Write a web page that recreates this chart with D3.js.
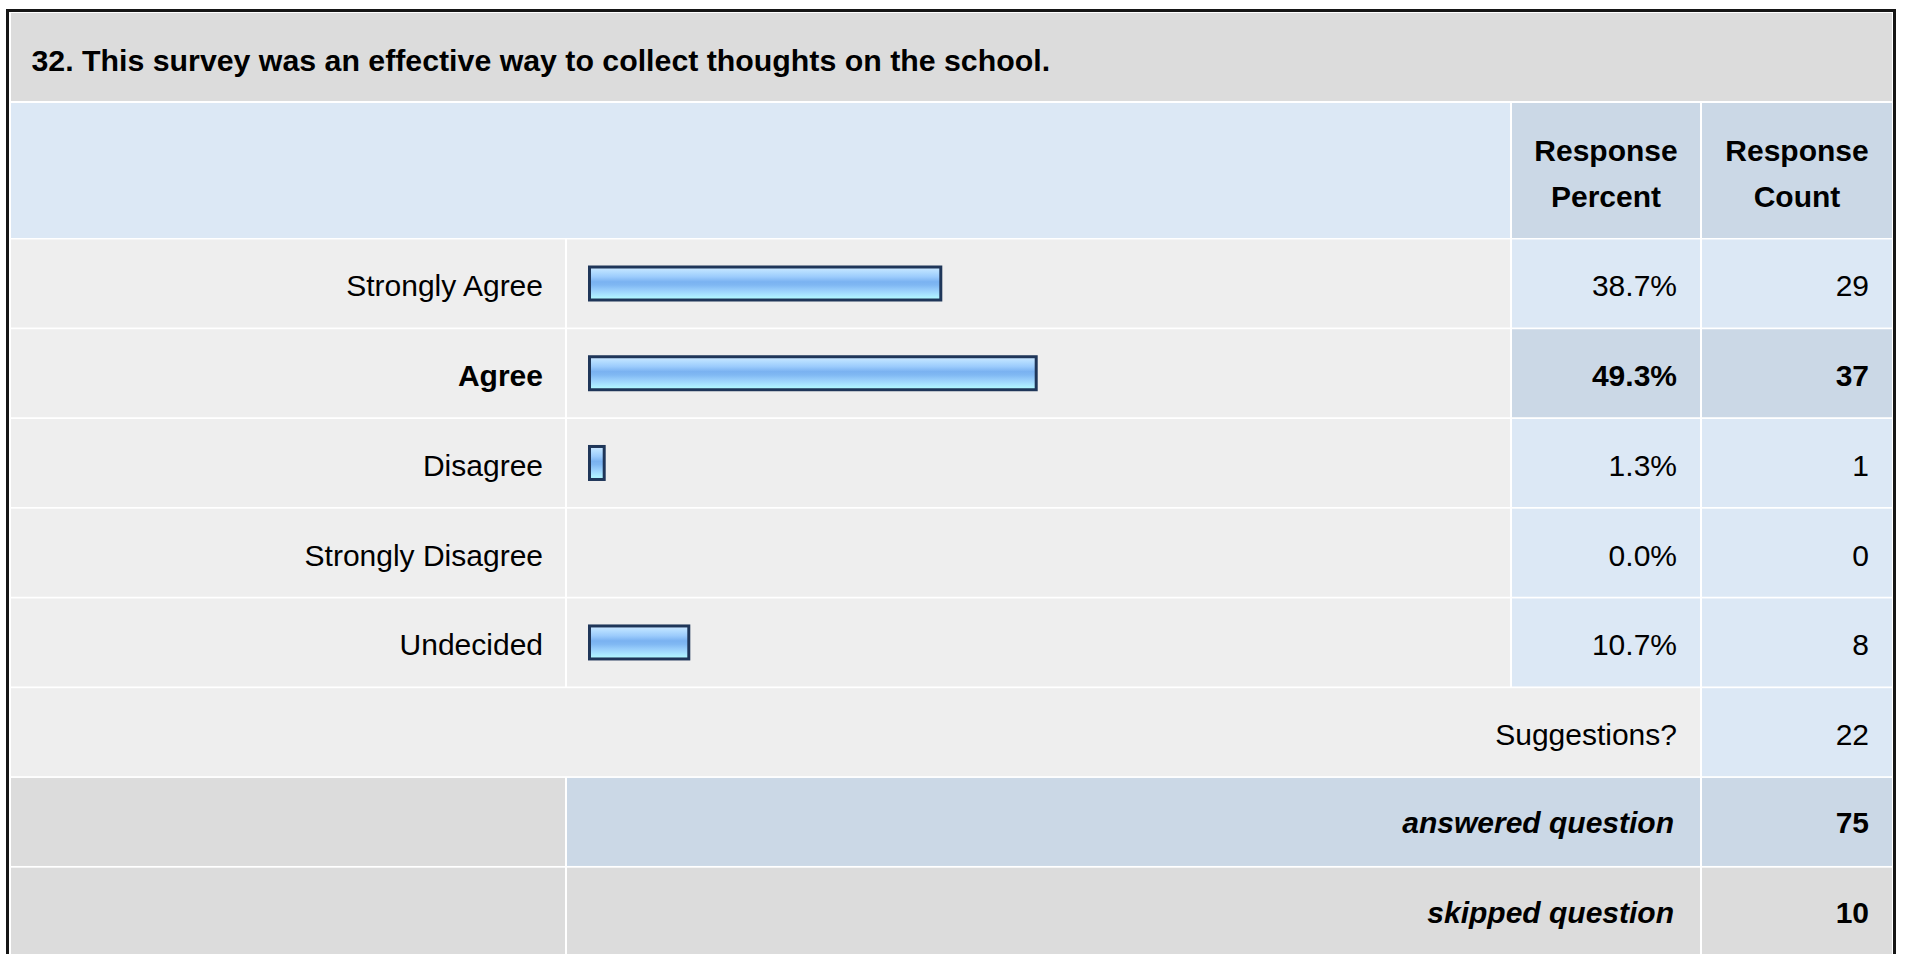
<!DOCTYPE html>
<html>
<head>
<meta charset="utf-8">
<script src="https://cdn.jsdelivr.net/npm/d3@7/dist/d3.min.js"></script>
<style>
  html, body { margin: 0; padding: 0; background: #ffffff; }
  svg { display: block; }
  text { font-family: "Liberation Sans", Arial, Helvetica, sans-serif; fill: #000; }
</style>
</head>
<body>
<svg id="chart" width="1907" height="954"></svg>
<script>
// Survey question results
const questionTitle = "32. This survey was an effective way to collect thoughts on the school.";
const headerPercent = ["Response", "Percent"];
const headerCount = ["Response", "Count"];
const answers = ["Strongly Agree", "Agree", "Disagree", "Strongly Disagree", "Undecided"];
const percents = [38.7, 49.3, 1.3, 0.0, 10.7];
const counts = [29, 37, 1, 0, 8];
const otherLabel = "Suggestions?";
const otherCount = 22;
const summaryLabels = ["answered question", "skipped question"];
const summaryCounts = [75, 10];

const W = 1907, H = 954;
const svg = d3.select("#chart");

// palette
const C = {
  border: "#161616",
  gray: "#dcdcdc",
  light: "#eeeeee",
  blue: "#dce8f5",
  blueDark: "#cbd8e6",
  barStroke: "#1f3659"
};

// column edges
const col = {
  label: [11, 565],
  bar: [567, 1510],
  pct: [1512, 1700],
  cnt: [1702, 1892]
};
const rowTop0 = 239.5, rowPitch = 89.74, rowH = 88;
const rowTop = i => rowTop0 + i * rowPitch;
const rowMid = i => rowTop(i) + rowH / 2;

// outer frame
svg.append("rect")
  .attr("x", 7.5).attr("y", 10.5)
  .attr("width", 1887).attr("height", 1000)
  .attr("fill", "#ffffff")
  .attr("stroke", C.border).attr("stroke-width", 3);

const cells = svg.append("g");
function cell(x0, x1, y0, y1, fill) {
  cells.append("rect")
    .attr("x", x0).attr("y", y0)
    .attr("width", x1 - x0).attr("height", y1 - y0)
    .attr("fill", fill);
}

// title row
cell(11, 1892, 13, 101, C.gray);
svg.append("text")
  .attr("x", 31.5).attr("y", 71)
  .attr("font-size", 30.3).attr("font-weight", "bold")
  .text(questionTitle);

// header row
cell(col.label[0], col.bar[1], 103, 238, C.blue);
cell(col.pct[0], col.pct[1], 103, 238, C.blueDark);
cell(col.cnt[0], col.cnt[1], 103, 238, C.blueDark);
[[col.pct, headerPercent], [col.cnt, headerCount]].forEach(([c, lines]) => {
  const t = svg.append("text")
    .attr("text-anchor", "middle")
    .attr("font-size", 30).attr("font-weight", "bold");
  lines.forEach((ln, k) => {
    t.append("tspan")
      .attr("x", (c[0] + c[1]) / 2)
      .attr("y", 161 + k * 46.3)
      .text(ln);
  });
});

// answer rows
const rows = answers.map((a, i) => ({ label: a, pct: percents[i], count: counts[i], i }));
const maxCount = d3.max(counts);

rows.forEach(d => {
  const y0 = rowTop(d.i), y1 = y0 + rowH;
  const hi = d.count === maxCount;
  cell(col.label[0], col.label[1], y0, y1, C.light);
  cell(col.bar[0], col.bar[1], y0, y1, C.light);
  cell(col.pct[0], col.pct[1], y0, y1, hi ? C.blueDark : C.blue);
  cell(col.cnt[0], col.cnt[1], y0, y1, hi ? C.blueDark : C.blue);
});

// bar gradient
const defs = svg.append("defs");
const grad = defs.append("linearGradient")
  .attr("id", "barGrad")
  .attr("x1", 0).attr("y1", 0).attr("x2", 0).attr("y2", 1);
[
  [0, "#cde8ff"], [0.15, "#b3dcff"], [0.3, "#9bcbfc"], [0.45, "#7ab2f1"],
  [0.55, "#80b8f3"], [0.7, "#98cefb"], [0.85, "#a9e6ff"], [1, "#b4ffff"]
].forEach(([o, c]) => grad.append("stop").attr("offset", o).attr("stop-color", c));

// bar scale: percent -> pixel length
const x = d3.scaleLinear().domain([0, 100]).range([0, 900]);
const barLeft = 588, barH = 36, sw = 3;

svg.append("g").selectAll("rect")
  .data(rows.filter(d => d.pct > 0))
  .join("rect")
  .attr("x", barLeft + sw / 2)
  .attr("y", d => rowMid(d.i) - barH / 2 + sw / 2)
  .attr("width", d => x(d.pct) + sw)
  .attr("height", barH - sw)
  .attr("fill", "url(#barGrad)")
  .attr("stroke", C.barStroke)
  .attr("stroke-width", sw);

const fmtPct = d => d3.format(".1f")(d) + "%";
const textY = i => rowMid(i) + 12.8;

const rowText = svg.append("g").attr("font-size", 30);
rows.forEach(d => {
  const hi = d.count === maxCount;
  rowText.append("text")
    .attr("x", 543).attr("y", textY(d.i))
    .attr("text-anchor", "end")
    .attr("font-weight", hi ? "bold" : "normal")
    .text(d.label);
  rowText.append("text")
    .attr("x", 1677).attr("y", textY(d.i))
    .attr("text-anchor", "end")
    .attr("font-weight", hi ? "bold" : "normal")
    .text(fmtPct(d.pct));
  rowText.append("text")
    .attr("x", 1869).attr("y", textY(d.i))
    .attr("text-anchor", "end")
    .attr("font-weight", hi ? "bold" : "normal")
    .text(d.count);
});

// open-ended row
{
  const i = answers.length;
  const y0 = rowTop(i), y1 = y0 + rowH;
  cell(col.label[0], col.pct[1], y0, y1, C.light);
  cell(col.cnt[0], col.cnt[1], y0, y1, C.blue);
  rowText.append("text").attr("x", 1677).attr("y", textY(i))
    .attr("text-anchor", "end").text(otherLabel);
  rowText.append("text").attr("x", 1869).attr("y", textY(i))
    .attr("text-anchor", "end").text(otherCount);
}

// summary rows
summaryLabels.forEach((lab, k) => {
  const i = answers.length + 1 + k;
  const y0 = rowTop(i), y1 = y0 + rowH;
  const fill = k === 0 ? C.blueDark : C.gray;
  cell(col.label[0], col.label[1], y0, y1, C.gray);
  cell(col.bar[0], col.pct[1], y0, y1, fill);
  cell(col.cnt[0], col.cnt[1], y0, y1, fill);
  rowText.append("text").attr("x", 1674).attr("y", textY(i) - 1.5)
    .attr("text-anchor", "end")
    .attr("font-weight", "bold").attr("font-style", "italic")
    .text(lab);
  rowText.append("text").attr("x", 1869).attr("y", textY(i) - 1.5)
    .attr("text-anchor", "end")
    .attr("font-weight", "bold")
    .text(summaryCounts[k]);
});
</script>
</body>
</html>
